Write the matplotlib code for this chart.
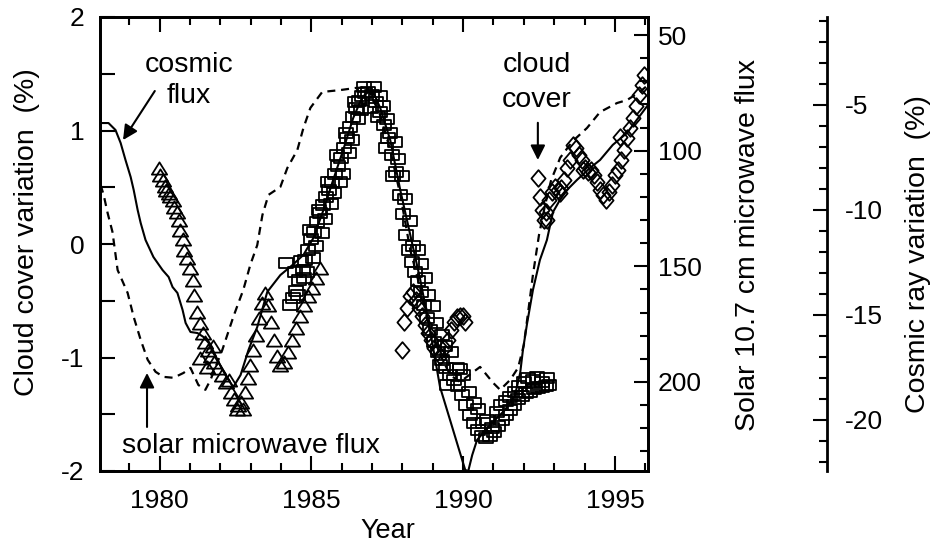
import matplotlib
matplotlib.use('Agg')
import matplotlib.pyplot as plt
from matplotlib.path import Path
from matplotlib.ticker import MultipleLocator, FixedLocator

plt.rcParams['font.family'] = ['Liberation Sans', 'DejaVu Sans']
plt.rcParams['axes.unicode_minus'] = False

# ---------------- data ----------------
# cosmic ray flux (solid line, right-most axis, %)
cr_year = [1978.06,1978.32,1978.55,1978.72,1978.88,1979.05,1979.15,1979.28,1979.38,1979.54,
           1979.80,1980.10,1980.30,1980.43,1980.59,1980.76,1980.86,1981.02,1981.25,1981.45,
           1981.68,1981.91,1982.17,1982.43,1982.67,1982.93,1983.22,1983.55,1983.98,1984.38,
           1984.74,1985.07,1985.40,1985.72,1986.05,1986.38,1986.68,1986.88,1987.07,1987.27,
           1987.60,1987.93,1988.26,1988.59,1988.91,1989.24,1989.57,1989.84,1990.07,1990.17,
           1990.30,1990.46,1990.89,1991.38,1991.71,1991.88,1991.97,1992.11,1992.30,1992.53,
           1992.76,1992.96,1993.19,1993.42,1993.75,1994.18,1994.51,1994.93,1995.40,1995.72,
           1996.09]
cr_val = [-5.86,-5.86,-6.19,-6.81,-7.62,-8.43,-9.05,-10.0,-10.62,-11.43,
          -12.24,-12.86,-13.19,-13.67,-13.95,-14.76,-15.38,-15.81,-15.86,-16.05,
          -16.43,-17.14,-17.86,-18.43,-17.86,-16.67,-15.57,-13.90,-13.10,-12.62,
          -12.14,-11.33,-10.0,-8.57,-7.14,-5.62,-4.62,-4.38,-4.48,-5.14,
          -6.67,-9.05,-11.19,-13.33,-15.71,-18.43,-20.0,-21.29,-22.38,-22.43,
          -21.67,-20.95,-20.24,-19.52,-18.81,-17.76,-16.67,-15.38,-13.81,-12.38,
          -11.43,-10.1,-9.52,-9.05,-8.57,-8.0,-7.62,-6.90,-6.33,-5.71,
          -5.0]

# solar 10.7 cm microwave flux (dashed line, inverted right axis)
sf_year = [1978.06,1978.16,1978.29,1978.45,1978.62,1978.95,1979.15,1979.38,1979.61,1979.87,
           1980.13,1980.46,1980.79,1981.02,1981.28,1981.51,1981.68,1982.07,1982.43,1982.60,
           1982.76,1982.99,1983.22,1983.39,1983.59,1983.98,1984.21,1984.54,1984.74,1984.97,
           1985.36,1985.95,1986.45,1986.84,1987.27,1987.60,1987.93,1988.26,1988.60,1988.90,
           1989.24,1989.57,1989.90,1990.20,1990.56,1990.99,1991.22,1991.55,1991.81,1992.00,
           1992.15,1992.30,1992.50,1992.70,1992.90,1993.20,1993.60,1994.08,1994.51,1995.07,
           1995.40,1995.82,1996.09]
sf_val = [114.8,119.1,126.9,135.1,151.6,161.5,171.9,181.8,190.4,195.6,
          197.8,198.2,196.1,193.9,201.3,203.4,199.1,186.1,171.9,165.8,
          160.2,149.4,140.8,127.8,119.1,115.7,107.5,99.7,90.2,81.5,
          74.6,73.8,72.9,72.5,84.6,99.7,119.0,143.0,160.0,177.5,
          188.0,197.0,200.0,197.0,193.5,200.4,203.4,199.1,193.9,184.0,
          169.0,153.7,136.4,123.5,112.7,103.0,96.0,90.2,83.3,79.4,
          78.1,74.6,71.6]

# cloud cover, triangles
tri_year = [1979.97,1980.03,1980.10,1980.17,1980.23,1980.30,1980.36,1980.43,1980.49,1980.56,
            1980.63,1980.69,1980.76,1980.82,1980.89,1980.99,1981.09,1981.15,1981.22,1981.32,
            1981.42,1981.51,1981.61,1981.71,1981.81,1981.94,1982.07,1982.20,1982.34,1982.47,
            1982.60,1982.70,1982.80,1982.90,1982.99,1983.09,1983.19,1983.29,1983.39,1983.49,
            1983.59,1983.68,1983.78,1983.88,1983.98,1984.11,1984.24,1984.38,1984.51,1984.64,
            1984.77,1984.90,1985.03,1985.17,1985.30,
            1981.35,1981.55,1981.75,1982.30,1982.55,1982.75]
tri_cloud = [0.67,0.61,0.56,0.51,0.48,0.45,0.42,0.39,0.33,0.28,
             0.21,0.12,0.04,-0.05,-0.12,-0.21,-0.32,-0.45,-0.60,-0.70,
             -0.78,-0.86,-0.93,-0.99,-1.04,-1.09,-1.15,-1.22,-1.30,-1.37,
             -1.42,-1.39,-1.30,-1.18,-1.07,-0.93,-0.80,-0.65,-0.52,-0.43,
             -0.54,-0.69,-0.85,-0.99,-1.07,-1.04,-0.95,-0.85,-0.74,-0.63,
             -0.54,-0.46,-0.39,-0.30,-0.21,
             -1.00,-1.08,-0.90,-1.20,-1.45,-1.45]

# cloud cover, squares
sq_year = [1984.18,1984.31,1984.41,1984.51,1984.61,1984.71,1984.80,1984.90,1985.00,1985.10,
           1985.20,1985.30,1985.40,1985.49,1985.59,1985.69,1985.79,1985.89,1985.99,1986.09,
           1986.19,1986.28,1986.38,1986.48,1986.58,1986.68,1986.78,1986.88,
           1987.01,1987.14,1987.27,1987.40,1987.53,1987.66,1987.80,1987.93,
           1988.03,1988.13,1988.22,1988.32,1988.42,1988.52,1988.62,1988.72,1988.82,1988.92,
           1989.05,1989.18,1989.31,1989.44,1989.57,1989.70,1989.84,1989.97,
           1990.10,1990.23,1990.36,1990.49,1990.63,1990.76,1990.89,
           1991.02,1991.15,1991.28,1991.41,1991.55,1991.68,1991.81,1991.94,
           1992.07,1992.20,1992.34,1992.47,1992.60,1992.73,1992.83,
           1989.47,1989.80,1989.24,
           1984.45,1984.75,1985.05,1985.35,1985.65,1985.95,1986.25,1986.55,1986.95,1987.25,
           1987.50,1987.75,1988.00,1988.25,1988.50,1988.75,1989.00,1989.30,1989.60,1989.90,
           1990.20,1990.50,1990.80,1991.10,1991.40,1991.70,1992.00,1992.30,1992.60,
           1984.55,1984.65,1984.85,1984.95,1985.15,1985.25,1985.45,1985.55,1985.75,1985.85,
           1986.05,1986.15,1986.35,1986.45,1986.65,1986.75,1987.05,1987.20,1987.35,1987.45,
           1987.60,1987.70,1987.85,1988.10,1988.35,1988.60,1988.85,1989.10,1989.40,1990.00,
           1990.35,1990.65,1990.95,1991.25,1991.55,1991.85,1992.15,1992.45,1992.75]
sq_cloud = [-0.17,-0.54,-0.48,-0.41,-0.32,-0.23,-0.14,-0.05,0.04,0.11,
            0.19,0.27,0.34,0.41,0.48,0.55,0.62,0.69,0.76,0.85,
            0.93,1.03,1.12,1.20,1.26,1.30,1.33,1.34,
            1.31,1.25,1.16,1.05,0.93,0.78,0.63,0.43,
            0.26,0.08,-0.05,-0.16,-0.25,-0.33,-0.42,-0.54,-0.65,-0.76,
            -0.86,-0.95,-1.02,-1.09,-1.15,-1.20,-1.25,-1.33,
            -1.42,-1.51,-1.58,-1.64,-1.69,-1.71,-1.69,
            -1.66,-1.60,-1.55,-1.51,-1.46,-1.42,-1.37,-1.34,
            -1.31,-1.30,-1.28,-1.27,-1.26,-1.25,-1.24,
            -1.24,-1.09,-1.07,
            -0.25,-0.30,-0.12,0.10,0.35,0.55,0.80,1.10,1.20,1.30,
            1.10,0.90,0.60,0.20,-0.05,-0.30,-0.55,-0.80,-0.95,-1.10,
            -1.30,-1.45,-1.55,-1.48,-1.38,-1.30,-1.22,-1.20,-1.22,
            -0.45,-0.15,-0.25,0.12,-0.02,0.30,0.22,0.55,0.45,0.78,
            0.62,0.98,0.92,1.25,1.18,1.38,1.38,1.12,1.22,0.85,
            0.98,0.60,0.75,0.40,-0.02,-0.18,-0.45,-0.70,-0.90,-1.15,
            -1.40,-1.58,-1.62,-1.42,-1.35,-1.25,-1.18,-1.17,-1.18]

# cloud cover, diamonds
dia_year = [1987.99,1988.06,1988.16,1988.26,1988.36,1988.45,1988.55,1988.65,1988.75,1988.85,
            1988.95,1989.05,1989.15,1989.24,1989.38,1989.51,1989.61,1989.70,1989.80,1989.90,
            1990.00,1990.07,
            1992.47,1992.53,1992.60,1992.67,1992.73,1992.83,1992.93,1993.03,1993.12,1993.22,
            1993.32,1993.42,1993.52,1993.62,1993.72,1993.82,1993.91,1994.01,1994.11,1994.21,
            1994.31,1994.41,1994.51,1994.61,1994.70,1994.80,1994.90,1995.00,1995.10,1995.20,
            1995.30,1995.40,1995.49,1995.59,1995.69,1995.79,1995.89,1995.96,
            1993.95,1995.17,1993.19,1992.76]
dia_cloud = [-0.93,-0.69,-0.56,-0.46,-0.42,-0.49,-0.56,-0.63,-0.71,-0.78,
             -0.85,-0.92,-0.95,-0.99,-0.92,-0.85,-0.76,-0.69,-0.64,-0.63,
             -0.63,-0.69,
             0.58,0.41,0.30,0.21,0.28,0.39,0.46,0.50,0.48,0.49,
             0.56,0.67,0.74,0.87,0.85,0.78,0.74,0.67,0.63,0.65,
             0.61,0.55,0.48,0.43,0.39,0.46,0.52,0.61,0.65,0.74,
             0.83,0.93,1.02,1.11,1.22,1.31,1.40,1.49,
             0.65,0.94,0.45,0.21]

x_major = [1980, 1985, 1990, 1995]

# ---------------- markers ----------------
tri_marker = Path([(0, 0.8), (-1, -0.8), (1, -0.8), (0, 0.8)],
                  [Path.MOVETO, Path.LINETO, Path.LINETO, Path.CLOSEPOLY])
rect_marker = Path([(-1, -0.72), (1, -0.72), (1, 0.72), (-1, 0.72), (-1, -0.72)],
                   [Path.MOVETO, Path.LINETO, Path.LINETO, Path.LINETO, Path.CLOSEPOLY])
dia_marker = Path([(0, 1), (0.85, 0), (0, -1), (-0.85, 0), (0, 1)],
                  [Path.MOVETO, Path.LINETO, Path.LINETO, Path.LINETO, Path.CLOSEPOLY])

TICK_FS = 19
LAB_FS = 20.5

fig = plt.figure(figsize=(9.35, 5.45), dpi=100)
ax = fig.add_axes([100/935, 74/545, 548/935, 454/545])
ax2 = ax.twinx()
ax3 = ax.twinx()

mk = dict(linestyle='none', markerfacecolor='none', markeredgecolor='k',
          markeredgewidth=1.3)
ax.plot(tri_year, tri_cloud, marker=tri_marker, markersize=11, **mk)
ax.plot(sq_year, sq_cloud, marker=rect_marker, markersize=10.5, **mk)
ax.plot(dia_year, dia_cloud, marker=dia_marker, markersize=12, **mk)

ax2.plot(sf_year, sf_val, color='k', lw=1.6, linestyle=(0, (3.6, 2.6)))
ax3.plot(cr_year, cr_val, color='k', lw=1.5)

ax.set_xlim(1978.04, 1996.09)
ax.set_ylim(-2, 2)
ax2.set_ylim(238.5, 42.2)
ax3.set_ylim(-22.43, -0.81)

# main axis ticks
ax.xaxis.set_major_locator(FixedLocator(x_major))
ax.xaxis.set_minor_locator(MultipleLocator(1))
ax.yaxis.set_major_locator(MultipleLocator(1))
ax.yaxis.set_minor_locator(MultipleLocator(0.5))
ax.tick_params(axis='x', which='both', direction='in', top=True, bottom=True,
               labelsize=TICK_FS, pad=13, width=1.5)
ax.tick_params(axis='x', which='major', length=11)
ax.tick_params(axis='x', which='minor', length=6)
ax.tick_params(axis='y', which='both', direction='in', left=True, right=False,
               labelsize=TICK_FS, pad=11, width=1.5, length=11)
for s in ax.spines.values():
    s.set_linewidth(2)

# solar flux axis
ax2.yaxis.set_major_locator(MultipleLocator(50))
ax2.yaxis.set_minor_locator(MultipleLocator(10))
ax2.tick_params(axis='y', which='both', direction='in', labelsize=TICK_FS,
                pad=7, width=1.5)
ax2.tick_params(axis='y', which='major', length=10)
ax2.tick_params(axis='y', which='minor', length=6)
for s in ax2.spines.values():
    s.set_linewidth(2)

# cosmic ray axis
ax3.spines['right'].set_position(('axes', 727/548))
for side in ['left', 'top', 'bottom']:
    ax3.spines[side].set_visible(False)
ax3.spines['right'].set_linewidth(2)
ax3.yaxis.set_major_locator(MultipleLocator(5))
ax3.yaxis.set_minor_locator(MultipleLocator(1))
ax3.tick_params(axis='y', which='both', direction='in', labelsize=TICK_FS,
                pad=13, width=1.5)
ax3.tick_params(axis='y', which='major', length=10)
ax3.tick_params(axis='y', which='minor', length=6)

# axis labels
fig.text(27/935, 1 - 232/545, 'Cloud cover variation  (%)', rotation=90,
         ha='center', va='center', fontsize=LAB_FS)
fig.text(748/935, 1 - 245/545, 'Solar 10.7 cm microwave flux', rotation=90,
         ha='center', va='center', fontsize=LAB_FS)
fig.text(918/935, 1 - 254/545, 'Cosmic ray variation  (%)', rotation=90,
         ha='center', va='center', fontsize=LAB_FS)
fig.text(388/935, 1 - 538/545, 'Year', ha='center', va='baseline', fontsize=19.5)

# annotations
t = ax.transAxes
ax.text(0.162, 0.879, 'cosmic', transform=t, ha='center', va='baseline', fontsize=LAB_FS)
ax.text(0.162, 0.8106, 'flux', transform=t, ha='center', va='baseline', fontsize=LAB_FS)
ax.text(0.797, 0.879, 'cloud', transform=t, ha='center', va='baseline', fontsize=LAB_FS)
ax.text(0.797, 0.802, 'cover', transform=t, ha='center', va='baseline', fontsize=LAB_FS)
ax.text(0.040, 0.0396, 'solar microwave flux', transform=t, ha='left', va='baseline',
        fontsize=LAB_FS)

ap = dict(arrowstyle='-|>', color='k', lw=1.5, mutation_scale=22, shrinkA=0, shrinkB=0)
ax.annotate('', xy=(0.042, 0.729), xytext=(0.100, 0.837),
            xycoords='axes fraction', textcoords='axes fraction', arrowprops=ap)
ax.annotate('', xy=(0.799, 0.685), xytext=(0.799, 0.767),
            xycoords='axes fraction', textcoords='axes fraction', arrowprops=ap)
ax.annotate('', xy=(0.0858, 0.216), xytext=(0.0858, 0.097),
            xycoords='axes fraction', textcoords='axes fraction', arrowprops=ap)

fig.savefig('out.png', dpi=100)
